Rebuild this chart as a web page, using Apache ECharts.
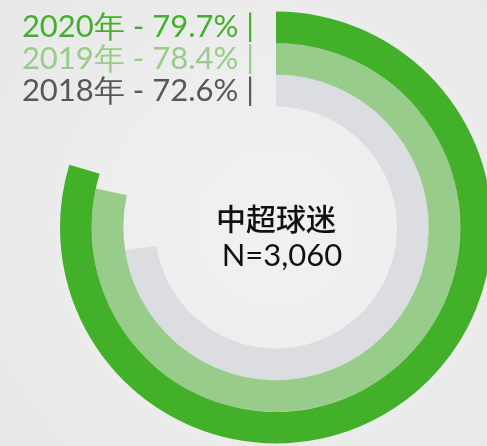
<!DOCTYPE html>
<html>
<head>
<meta charset="utf-8">
<script src="https://cdn.jsdelivr.net/npm/echarts@6/dist/echarts.min.js"></script>
<style>
html,body{margin:0;padding:0;background:#ebebeb;}
#main{width:487px;height:446px;}
</style>
</head>
<body>
<div id="main"></div>
<script>
// Data (inner ring -> outer ring)
var years = ['2018年', '2019年', '2020年'];
var values = [72.6, 78.4, 79.7];
var ringColors = ['#dcdde0', '#97cc8a', '#43b02a'];
var labelColors = ['#555759', '#97cc8a', '#43b02a'];
var centerTitle = '中超球迷';
var centerSample = 'N=3,060';

var chart = echarts.init(document.getElementById('main'), null, {renderer: 'canvas'});

var cx = 276, cy = 227.5;

var option = {
  backgroundColor: {
    type: 'radial', x: cx / 487, y: cy / 446, r: 0.7,
    colorStops: [
      {offset: 0, color: '#f1f1f1'},
      {offset: 0.45, color: '#eeeeee'},
      {offset: 1, color: '#e9e9ea'}
    ]
  },
  animation: false,
  polar: {
    center: [cx, cy],
    radius: [121, 216]
  },
  angleAxis: {
    type: 'value',
    min: 0,
    max: 100,
    startAngle: 90,
    clockwise: true,
    show: false
  },
  radiusAxis: {
    type: 'category',
    data: years,
    axisLine: {show: false},
    axisTick: {show: false},
    splitLine: {show: false},
    axisLabel: {
      show: true,
      interval: 0,
      hideOverlap: false,
      margin: 22,
      fontSize: 31,
      fontFamily: 'Lato',
      fontWeight: 'normal',
      color: function (value, index) { return labelColors[index]; },
      formatter: function (value, index) {
        return value + ' - ' + values[index].toFixed(1) + '% |';
      }
    },
    z: 10
  },
  series: [{
    type: 'bar',
    coordinateSystem: 'polar',
    barCategoryGap: '0%',
    data: values.map(function (v, i) {
      return {value: v, itemStyle: {color: ringColors[i]}};
    })
  }],
  graphic: [{
    type: 'text',
    style: {
      text: centerTitle,
      x: 276, y: 219,
      align: 'center',
      verticalAlign: 'middle',
      fontSize: 30,
      fontWeight: 500,
      fontFamily: '"Noto Sans CJK SC", sans-serif',
      fill: '#111111'
    }
  }, {
    type: 'text',
    style: {
      text: centerSample,
      x: 282, y: 256,
      align: 'center',
      verticalAlign: 'middle',
      fontSize: 31,
      fontFamily: 'Lato, sans-serif',
      fill: '#111111'
    }
  }]
};
chart.setOption(option);
</script>
</body>
</html>
